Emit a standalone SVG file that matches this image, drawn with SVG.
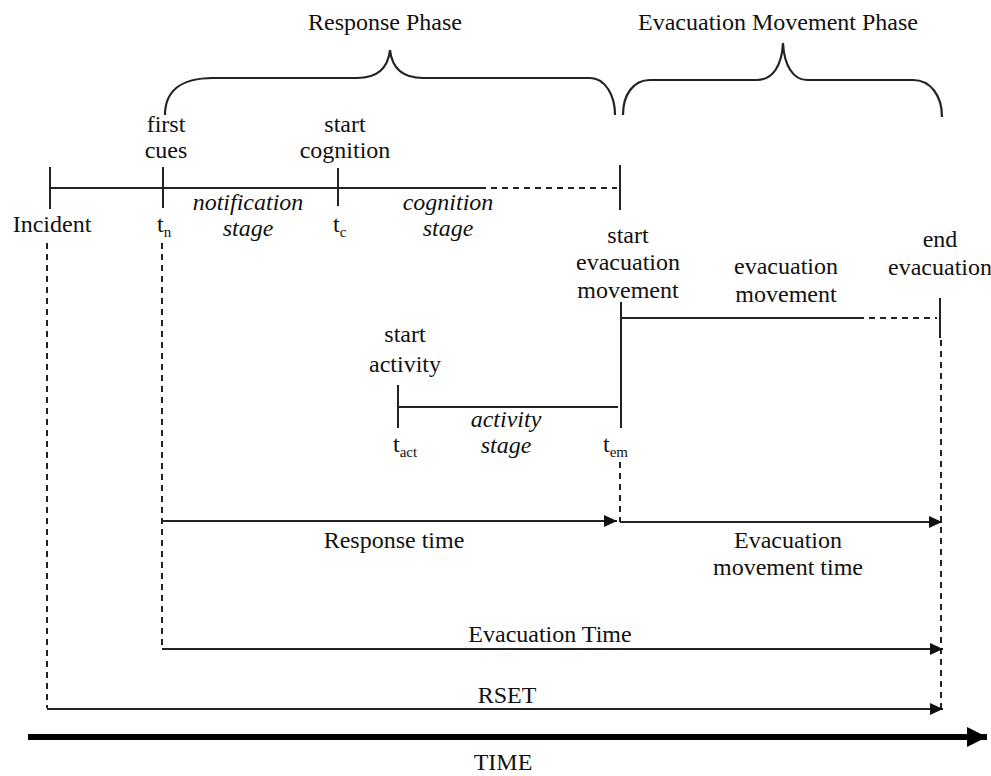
<svg xmlns="http://www.w3.org/2000/svg" width="991" height="776" viewBox="0 0 991 776">
<style>
text{font-family:"Liberation Serif","Times New Roman",serif;font-size:24px;fill:#111;}
.c{text-anchor:middle;}
.i{font-style:italic;}
.sub{font-size:15px;}
.ln{stroke:#222;stroke-width:2;fill:none;}
.ds{stroke:#222;stroke-width:2;fill:none;stroke-dasharray:6 5;}
.br{stroke:#222;stroke-width:2.2;fill:none;}
</style>
<defs>
<marker id="ah" markerUnits="userSpaceOnUse" markerWidth="15" markerHeight="12" refX="13" refY="6" orient="auto">
<path d="M0,0 L13,6 L0,12 Z" fill="#111"/>
</marker>
<marker id="big" markerUnits="userSpaceOnUse" markerWidth="22" markerHeight="20" refX="20" refY="10" orient="auto">
<path d="M0,0 L20,10 L0,20 Z" fill="#000"/>
</marker>
</defs>

<g id="response-phase">
<path class="br" d="M165,115 C165,92 180,78 213,78 L357,78 C377,78 388,68 390,50 C392,68 403,78 423,78 L590,78 C605,78 615,95 615,115"/>
<text class="c" x="385" y="30">Response Phase</text>
</g>
<g id="evac-phase">
<path class="br" d="M623,115 C623,95 633,80 650,80 L757,80 C773,80 782,65 783,43 C784,65 793,80 807,80 L913,80 C930,80 942,95 942,117"/>
<text class="c" x="778" y="30">Evacuation Movement Phase</text>
</g>

<g id="connectors">
<line class="ln" x1="50" y1="188" x2="480" y2="188"/>
<line class="ds" x1="480" y1="188" x2="617" y2="188"/>
<line class="ln" x1="50" y1="167" x2="50" y2="209"/>
<line class="ln" x1="163" y1="167" x2="163" y2="208"/>
<line class="ln" x1="338" y1="168" x2="338" y2="206"/>
<line class="ln" x1="620" y1="165" x2="620" y2="210"/>
<line class="ln" x1="621" y1="302" x2="621" y2="428"/>
<line class="ln" x1="398" y1="385" x2="398" y2="428"/>
<line class="ln" x1="398" y1="407" x2="618" y2="407"/>
<line class="ln" x1="621" y1="318" x2="858" y2="318"/>
<line class="ds" x1="858" y1="318" x2="937" y2="318"/>
<line class="ln" x1="940" y1="298" x2="940" y2="338"/>
<line class="ds" x1="47" y1="243" x2="47" y2="708"/>
<line class="ds" x1="162" y1="243" x2="162" y2="648"/>
<line class="ds" x1="620" y1="462" x2="620" y2="522"/>
<line class="ds" x1="941" y1="340" x2="941" y2="708"/>
<line class="ln" x1="162" y1="521" x2="617" y2="521" marker-end="url(#ah)"/>
<line class="ln" x1="620" y1="522" x2="942" y2="522" marker-end="url(#ah)"/>
<line class="ln" x1="162" y1="649" x2="943" y2="649" marker-end="url(#ah)"/>
<line class="ln" x1="47" y1="709" x2="943" y2="709" marker-end="url(#ah)"/>
<line x1="28" y1="737" x2="987" y2="737" stroke="#000" stroke-width="6" marker-end="url(#big)"/>
</g>

<g id="incident"><text class="c" x="52" y="232">Incident</text></g>
<g id="first-cues">
<text class="c" x="166" y="132">first</text>
<text class="c" x="166" y="158">cues</text>
<text x="157" y="232">t<tspan class="sub" dy="5">n</tspan></text>
</g>
<g id="notification-stage">
<text class="c i" x="248" y="210">notification</text>
<text class="c i" x="248" y="236">stage</text>
</g>
<g id="start-cognition">
<text class="c" x="345" y="132">start</text>
<text class="c" x="345" y="158">cognition</text>
<text x="333" y="232">t<tspan class="sub" dy="5">c</tspan></text>
</g>
<g id="cognition-stage">
<text class="c i" x="448" y="210">cognition</text>
<text class="c i" x="448" y="236">stage</text>
</g>
<g id="start-evacuation">
<text class="c" x="628" y="243">start</text>
<text class="c" x="628" y="270">evacuation</text>
<text class="c" x="628" y="298">movement</text>
<text x="603" y="452">t<tspan class="sub" dy="5">em</tspan></text>
</g>
<g id="evacuation-movement">
<text class="c" x="786" y="274">evacuation</text>
<text class="c" x="786" y="302">movement</text>
</g>
<g id="end-evacuation">
<text class="c" x="940" y="247">end</text>
<text class="c" x="940" y="275">evacuation</text>
</g>
<g id="start-activity">
<text class="c" x="405" y="342">start</text>
<text class="c" x="405" y="372">activity</text>
<text x="393" y="452">t<tspan class="sub" dy="5">act</tspan></text>
</g>
<g id="activity-stage">
<text class="c i" x="506" y="427">activity</text>
<text class="c i" x="506" y="453">stage</text>
</g>
<g id="response-time"><text class="c" x="394" y="548">Response time</text></g>
<g id="evac-movement-time">
<text class="c" x="788" y="548">Evacuation</text>
<text class="c" x="788" y="575">movement time</text>
</g>
<g id="evacuation-time"><text class="c" x="550" y="642">Evacuation Time</text></g>
<g id="rset"><text class="c" x="507" y="703">RSET</text></g>
<g id="time"><text class="c" x="503" y="770">TIME</text></g>
</svg>
